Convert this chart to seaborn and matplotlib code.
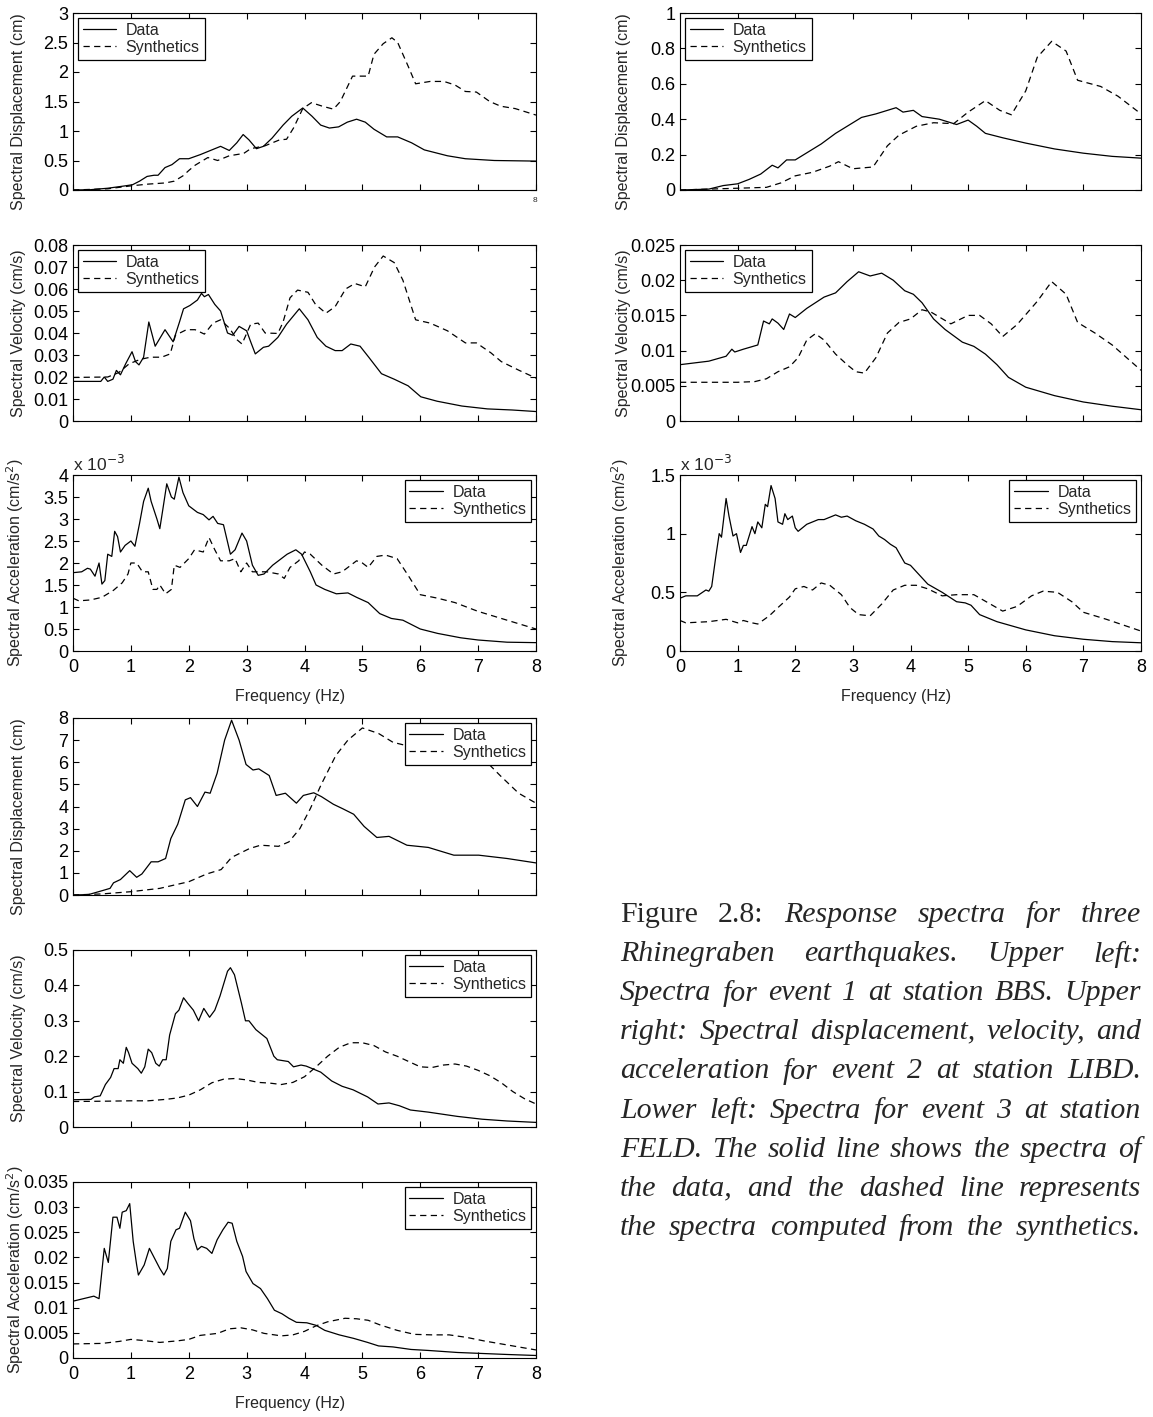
import matplotlib
matplotlib.use("Agg")
import matplotlib.pyplot as plt
import seaborn as sns
import pandas as pd
from matplotlib.ticker import FuncFormatter, MultipleLocator

# ---------------- DATA ----------------
# Event 1, station BBS (upper left)
p1_data_f = [0.0, 0.3, 0.6, 0.9, 1.03, 1.15, 1.28, 1.4, 1.47, 1.59, 1.71, 1.84, 2.0, 2.2, 2.4, 2.55, 2.7, 2.83, 2.94, 3.04, 3.17, 3.29, 3.44, 3.63, 3.78, 3.97, 4.13, 4.28, 4.43, 4.59, 4.74, 4.9, 5.05, 5.2, 5.42, 5.61, 5.85, 6.07, 6.47, 6.78, 7.28, 8.0]
p1_data_v = [0.0, 0.005, 0.03, 0.07, 0.09, 0.15, 0.23, 0.25, 0.25, 0.38, 0.43, 0.53, 0.53, 0.6, 0.68, 0.74, 0.67, 0.8, 0.94, 0.85, 0.7, 0.74, 0.88, 1.1, 1.25, 1.39, 1.25, 1.1, 1.05, 1.07, 1.15, 1.2, 1.15, 1.03, 0.9, 0.9, 0.8, 0.68, 0.58, 0.53, 0.5, 0.49]
p1_syn_f = [0.0, 0.6, 1.0, 1.3, 1.6, 1.75, 1.9, 2.0, 2.11, 2.33, 2.5, 2.7, 2.95, 3.07, 3.32, 3.57, 3.69, 3.81, 3.97, 4.12, 4.31, 4.5, 4.62, 4.83, 5.1, 5.2, 5.36, 5.51, 5.61, 5.79, 5.92, 6.17, 6.41, 6.6, 6.78, 6.97, 7.2, 7.39, 7.64, 8.0]
p1_syn_v = [0.0, 0.02, 0.07, 0.1, 0.12, 0.15, 0.24, 0.33, 0.42, 0.55, 0.5, 0.58, 0.62, 0.7, 0.75, 0.85, 0.86, 1.05, 1.38, 1.48, 1.42, 1.37, 1.5, 1.93, 1.93, 2.3, 2.48, 2.58, 2.5, 2.1, 1.8, 1.84, 1.84, 1.78, 1.67, 1.66, 1.5, 1.42, 1.38, 1.27]

p3_data_f = [0.0, 0.48, 0.54, 0.6, 0.69, 0.75, 0.82, 0.91, 1.02, 1.08, 1.14, 1.22, 1.31, 1.42, 1.59, 1.73, 1.84, 1.91, 2.02, 2.15, 2.22, 2.27, 2.34, 2.45, 2.55, 2.67, 2.76, 2.87, 3.0, 3.07, 3.15, 3.29, 3.38, 3.54, 3.69, 3.91, 4.06, 4.22, 4.37, 4.53, 4.65, 4.8, 4.96, 5.11, 5.33, 5.55, 5.79, 6.01, 6.29, 6.72, 7.16, 7.59, 8.0]
p3_data_v = [0.018, 0.018, 0.02, 0.018, 0.019, 0.023, 0.021, 0.026, 0.0315, 0.027, 0.0255, 0.029, 0.045, 0.034, 0.0415, 0.036, 0.045, 0.051, 0.0525, 0.055, 0.058, 0.0565, 0.0575, 0.053, 0.05, 0.04, 0.039, 0.043, 0.041, 0.036, 0.0305, 0.0335, 0.034, 0.038, 0.044, 0.051, 0.046, 0.038, 0.034, 0.032, 0.032, 0.035, 0.034, 0.029, 0.0215, 0.019, 0.016, 0.011, 0.009, 0.0068, 0.0055, 0.005, 0.0043]
p3_syn_f = [0.0, 0.6, 0.79, 0.97, 1.16, 1.34, 1.53, 1.68, 1.77, 1.96, 2.11, 2.27, 2.42, 2.55, 2.71, 2.83, 2.92, 3.07, 3.2, 3.32, 3.54, 3.63, 3.75, 3.88, 4.06, 4.19, 4.37, 4.53, 4.71, 4.87, 5.05, 5.21, 5.36, 5.55, 5.7, 5.92, 6.17, 6.47, 6.78, 6.97, 7.22, 7.4, 7.71, 8.0]
p3_syn_v = [0.0198, 0.02, 0.022, 0.026, 0.028, 0.029, 0.029, 0.0305, 0.039, 0.0415, 0.0415, 0.0395, 0.0445, 0.046, 0.042, 0.037, 0.035, 0.044, 0.0445, 0.04, 0.0398, 0.045, 0.056, 0.0595, 0.0585, 0.053, 0.049, 0.052, 0.06, 0.0625, 0.061, 0.07, 0.075, 0.072, 0.064, 0.046, 0.0445, 0.041, 0.0355, 0.0355, 0.031, 0.027, 0.023, 0.0195]

# acceleration in units of 1e-3 cm/s^2
p5_data_f = [0.0, 0.15, 0.25, 0.3, 0.38, 0.45, 0.5, 0.55, 0.6, 0.67, 0.72, 0.77, 0.82, 0.9, 1.0, 1.07, 1.15, 1.22, 1.3, 1.35, 1.45, 1.5, 1.55, 1.62, 1.7, 1.75, 1.83, 1.9, 2.0, 2.15, 2.25, 2.35, 2.42, 2.5, 2.6, 2.72, 2.8, 2.92, 3.0, 3.1, 3.2, 3.3, 3.45, 3.55, 3.7, 3.85, 3.95, 4.1, 4.2, 4.35, 4.55, 4.75, 4.9, 5.1, 5.3, 5.5, 5.7, 5.85, 6.0, 6.3, 6.7, 7.0, 7.5, 8.0]
p5_data_v = [1.78, 1.8, 1.88, 1.86, 1.7, 2.0, 1.52, 1.6, 2.2, 2.15, 2.72, 2.6, 2.25, 2.4, 2.5, 2.38, 2.9, 3.4, 3.7, 3.4, 3.0, 2.78, 3.2, 3.8, 3.5, 3.45, 3.95, 3.6, 3.3, 3.15, 3.1, 2.98, 3.06, 2.9, 2.87, 2.2, 2.3, 2.68, 2.5, 1.95, 1.72, 1.75, 1.95, 2.05, 2.2, 2.3, 2.2, 1.8, 1.5, 1.4, 1.3, 1.32, 1.22, 1.1, 0.85, 0.74, 0.7, 0.6, 0.5, 0.4, 0.3, 0.25, 0.2, 0.19]
p5_syn_f = [0.0, 0.1, 0.3, 0.5, 0.7, 0.85, 0.95, 1.0, 1.1, 1.2, 1.3, 1.38, 1.45, 1.5, 1.6, 1.7, 1.75, 1.85, 2.0, 2.1, 2.25, 2.35, 2.45, 2.55, 2.7, 2.8, 2.9, 3.0, 3.1, 3.35, 3.55, 3.65, 3.75, 3.9, 4.0, 4.1, 4.3, 4.5, 4.65, 4.9, 5.0, 5.1, 5.25, 5.4, 5.6, 5.8, 6.0, 6.3, 6.6, 7.0, 7.5, 8.0]
p5_syn_v = [1.2, 1.14, 1.16, 1.22, 1.38, 1.55, 1.75, 2.0, 2.0, 1.8, 1.8, 1.4, 1.4, 1.5, 1.3, 1.4, 1.95, 1.9, 2.1, 2.3, 2.25, 2.58, 2.3, 2.05, 2.05, 2.1, 1.8, 2.0, 1.8, 1.8, 1.75, 1.65, 1.9, 2.05, 2.25, 2.2, 1.95, 1.75, 1.8, 2.05, 2.0, 1.9, 2.15, 2.18, 2.1, 1.7, 1.28, 1.2, 1.1, 0.9, 0.7, 0.5]

# Event 2, station LIBD (upper right)
p2_data_f = [0.0, 0.5, 0.75, 1.0, 1.2, 1.4, 1.6, 1.7, 1.85, 2.0, 2.2, 2.45, 2.7, 2.95, 3.15, 3.4, 3.6, 3.75, 3.87, 4.05, 4.2, 4.5, 4.8, 5.0, 5.15, 5.3, 5.6, 6.0, 6.5, 7.0, 7.5, 8.0]
p2_data_v = [0.0, 0.005, 0.025, 0.035, 0.06, 0.09, 0.14, 0.125, 0.17, 0.17, 0.21, 0.26, 0.32, 0.37, 0.41, 0.43, 0.45, 0.465, 0.44, 0.45, 0.415, 0.4, 0.37, 0.395, 0.36, 0.32, 0.295, 0.265, 0.232, 0.208, 0.19, 0.18]
p2_syn_f = [0.0, 1.0, 1.5, 1.75, 2.0, 2.3, 2.6, 2.75, 3.0, 3.35, 3.6, 3.8, 4.1, 4.4, 4.75, 5.0, 5.3, 5.55, 5.75, 6.0, 6.2, 6.45, 6.7, 6.9, 7.3, 7.6, 8.0]
p2_syn_v = [0.0, 0.01, 0.015, 0.04, 0.08, 0.1, 0.135, 0.16, 0.12, 0.13, 0.25, 0.31, 0.36, 0.38, 0.375, 0.44, 0.505, 0.45, 0.425, 0.56, 0.75, 0.84, 0.785, 0.62, 0.585, 0.53, 0.43]

p4_data_f = [0.0, 0.5, 0.8, 0.9, 0.95, 1.1, 1.35, 1.45, 1.55, 1.6, 1.7, 1.8, 1.9, 2.0, 2.2, 2.5, 2.7, 2.9, 3.1, 3.3, 3.5, 3.7, 3.9, 4.05, 4.2, 4.4, 4.6, 4.9, 5.1, 5.3, 5.5, 5.7, 6.0, 6.5, 7.0, 7.5, 8.0]
p4_data_v = [0.008, 0.0085, 0.0092, 0.0102, 0.0098, 0.0102, 0.0108, 0.0142, 0.0138, 0.0145, 0.0139, 0.013, 0.0152, 0.0147, 0.016, 0.0176, 0.0182, 0.0198, 0.0212, 0.0206, 0.021, 0.02, 0.0185, 0.018, 0.0168, 0.0145, 0.013, 0.0112, 0.0106, 0.0095, 0.008, 0.0062, 0.0048, 0.0036, 0.0027, 0.0021, 0.0016]
p4_syn_f = [0.0, 1.0, 1.3, 1.5, 1.7, 1.9, 2.05, 2.2, 2.35, 2.5, 2.7, 2.9, 3.05, 3.2, 3.4, 3.6, 3.8, 4.0, 4.2, 4.35, 4.7, 5.0, 5.2, 5.4, 5.6, 5.85, 6.2, 6.45, 6.7, 6.9, 7.2, 7.5, 8.0]
p4_syn_v = [0.0055, 0.0055, 0.0056, 0.006, 0.007, 0.0077, 0.009, 0.0115, 0.0124, 0.0115, 0.0095, 0.008, 0.007, 0.0068, 0.009, 0.0125, 0.014, 0.0145, 0.0158, 0.0155, 0.0138, 0.015, 0.015, 0.0138, 0.012, 0.0137, 0.017, 0.0198, 0.018, 0.014, 0.0125, 0.0108, 0.0072]

p6_data_f = [0.0, 0.1, 0.3, 0.45, 0.5, 0.55, 0.62, 0.68, 0.72, 0.8, 0.85, 0.92, 0.98, 1.05, 1.1, 1.15, 1.25, 1.3, 1.35, 1.42, 1.48, 1.52, 1.58, 1.65, 1.7, 1.78, 1.82, 1.87, 1.95, 2.0, 2.05, 2.2, 2.4, 2.5, 2.7, 2.8, 2.9, 3.05, 3.2, 3.35, 3.45, 3.55, 3.65, 3.75, 3.9, 4.0, 4.15, 4.3, 4.55, 4.8, 4.95, 5.05, 5.2, 5.5, 6.0, 6.5, 7.0, 7.5, 8.0]
p6_data_v = [0.45, 0.47, 0.47, 0.52, 0.51, 0.55, 0.8, 1.0, 0.97, 1.3, 1.15, 0.98, 1.0, 0.84, 0.9, 0.9, 1.06, 1.0, 1.1, 1.05, 1.25, 1.23, 1.41, 1.3, 1.1, 1.08, 1.17, 1.12, 1.15, 1.05, 1.02, 1.08, 1.12, 1.12, 1.16, 1.14, 1.15, 1.11, 1.08, 1.04, 0.98, 0.95, 0.91, 0.88, 0.75, 0.73, 0.65, 0.57, 0.5, 0.42, 0.41, 0.39, 0.31, 0.25, 0.18, 0.13, 0.1, 0.08, 0.07]
p6_syn_f = [0.0, 0.1, 0.5, 0.8, 1.0, 1.1, 1.25, 1.35, 1.55, 1.7, 1.9, 2.0, 2.15, 2.3, 2.45, 2.6, 2.8, 2.95, 3.1, 3.3, 3.5, 3.7, 3.9, 4.1, 4.3, 4.55, 4.8, 5.1, 5.35, 5.6, 5.85, 6.1, 6.3, 6.55, 6.8, 7.0, 7.4, 8.0]
p6_syn_v = [0.26, 0.24, 0.25, 0.27, 0.24, 0.26, 0.24, 0.23, 0.3, 0.37, 0.46, 0.53, 0.55, 0.52, 0.58, 0.56, 0.48, 0.37, 0.31, 0.3, 0.4, 0.52, 0.56, 0.56, 0.53, 0.47, 0.48, 0.48, 0.41, 0.34, 0.38, 0.47, 0.51, 0.5, 0.42, 0.33, 0.27, 0.17]

# Event 3, station FELD (lower left)
p7_data_f = [0.0, 0.27, 0.51, 0.64, 0.7, 0.82, 0.98, 1.1, 1.19, 1.35, 1.47, 1.6, 1.69, 1.81, 1.94, 2.03, 2.15, 2.28, 2.37, 2.49, 2.62, 2.74, 2.87, 2.99, 3.11, 3.21, 3.33, 3.39, 3.51, 3.67, 3.86, 3.98, 4.16, 4.29, 4.5, 4.66, 4.85, 5.03, 5.25, 5.46, 5.77, 6.14, 6.58, 7.01, 7.5, 8.0]
p7_data_v = [0.0, 0.02, 0.2, 0.3, 0.55, 0.7, 1.1, 0.8, 0.95, 1.5, 1.5, 1.65, 2.55, 3.2, 4.3, 4.4, 4.0, 4.65, 4.6, 5.5, 7.0, 7.9, 7.0, 5.9, 5.65, 5.7, 5.5, 5.4, 4.5, 4.6, 4.15, 4.5, 4.62, 4.45, 4.1, 3.9, 3.65, 3.1, 2.6, 2.65, 2.25, 2.15, 1.8, 1.8, 1.65, 1.45]
p7_syn_f = [0.0, 0.51, 1.0, 1.5, 2.0, 2.31, 2.56, 2.74, 3.05, 3.24, 3.55, 3.73, 3.92, 4.1, 4.29, 4.54, 4.75, 5.0, 5.28, 5.53, 6.0, 6.5, 7.0, 7.13, 7.38, 7.7, 8.0]
p7_syn_v = [0.0, 0.05, 0.15, 0.3, 0.6, 0.95, 1.15, 1.7, 2.1, 2.25, 2.2, 2.4, 3.0, 3.9, 5.0, 6.3, 7.0, 7.55, 7.3, 6.9, 6.6, 6.3, 6.1, 6.06, 5.4, 4.6, 4.15]

p8_data_f = [0.0, 0.31, 0.37, 0.47, 0.56, 0.65, 0.71, 0.78, 0.81, 0.87, 0.92, 0.96, 1.02, 1.12, 1.18, 1.24, 1.3, 1.36, 1.43, 1.49, 1.55, 1.61, 1.67, 1.77, 1.83, 1.91, 1.98, 2.08, 2.17, 2.26, 2.36, 2.45, 2.54, 2.67, 2.72, 2.79, 2.91, 2.98, 3.04, 3.16, 3.35, 3.47, 3.53, 3.72, 3.81, 3.94, 4.03, 4.28, 4.47, 4.65, 4.84, 5.09, 5.27, 5.46, 5.64, 5.83, 6.14, 6.64, 7.07, 7.5, 8.0]
p8_data_v = [0.077, 0.078, 0.085, 0.088, 0.12, 0.14, 0.165, 0.165, 0.19, 0.18, 0.225, 0.21, 0.18, 0.165, 0.152, 0.17, 0.22, 0.21, 0.18, 0.172, 0.19, 0.19, 0.26, 0.32, 0.33, 0.365, 0.35, 0.33, 0.3, 0.335, 0.31, 0.33, 0.37, 0.44, 0.45, 0.43, 0.35, 0.3, 0.3, 0.275, 0.25, 0.2, 0.19, 0.185, 0.17, 0.175, 0.172, 0.155, 0.13, 0.115, 0.105, 0.085, 0.065, 0.068, 0.06, 0.048, 0.042, 0.03, 0.022, 0.017, 0.013]
p8_syn_f = [0.0, 0.6, 1.0, 1.3, 1.6, 1.8, 2.0, 2.2, 2.4, 2.6, 2.8, 3.0, 3.2, 3.4, 3.6, 3.8, 4.0, 4.2, 4.4, 4.6, 4.8, 5.0, 5.2, 5.4, 5.6, 5.8, 6.0, 6.2, 6.4, 6.6, 6.8, 7.0, 7.2, 7.4, 7.6, 7.8, 8.0]
p8_syn_v = [0.072, 0.073, 0.074, 0.074, 0.078, 0.082, 0.09, 0.105, 0.125, 0.135, 0.137, 0.133, 0.126, 0.124, 0.12, 0.126, 0.142, 0.17, 0.2, 0.225, 0.238, 0.238, 0.23, 0.212, 0.2, 0.185, 0.17, 0.168, 0.175, 0.178, 0.172, 0.16, 0.145, 0.125, 0.1, 0.08, 0.065]

p9_data_f = [0.0, 0.36, 0.45, 0.54, 0.61, 0.69, 0.76, 0.81, 0.85, 0.92, 0.98, 1.04, 1.1, 1.13, 1.23, 1.32, 1.41, 1.5, 1.57, 1.63, 1.69, 1.78, 1.84, 1.94, 2.03, 2.09, 2.15, 2.22, 2.31, 2.4, 2.49, 2.59, 2.68, 2.75, 2.83, 2.93, 2.99, 3.11, 3.24, 3.36, 3.48, 3.61, 3.73, 3.86, 4.04, 4.2, 4.35, 4.6, 4.85, 5.09, 5.28, 5.53, 5.84, 6.14, 6.64, 7.07, 7.5, 8.0]
p9_data_v = [0.0113, 0.0123, 0.0118, 0.0218, 0.019, 0.028, 0.028, 0.0258, 0.029, 0.0293, 0.0307, 0.0232, 0.0185, 0.0165, 0.0185, 0.0218, 0.0198, 0.0178, 0.0165, 0.0178, 0.0232, 0.0255, 0.0258, 0.029, 0.0273, 0.0237, 0.0215, 0.0222, 0.0218, 0.0208, 0.0235, 0.0255, 0.027, 0.0268, 0.0232, 0.0202, 0.0172, 0.0148, 0.0138, 0.0118, 0.0095, 0.0088, 0.0079, 0.0071, 0.007, 0.0065, 0.0055, 0.0046, 0.0039, 0.0031, 0.0024, 0.0022, 0.0017, 0.0015, 0.0011, 0.0009, 0.0007, 0.0005]
p9_syn_f = [0.0, 0.5, 0.8, 1.0, 1.2, 1.5, 1.8, 2.0, 2.2, 2.5, 2.7, 2.9, 3.1, 3.3, 3.6, 3.8, 4.0, 4.2, 4.4, 4.7, 4.9, 5.1, 5.3, 5.6, 5.9, 6.2, 6.5, 6.8, 7.1, 7.5, 8.0]
p9_syn_v = [0.0028, 0.0029, 0.0033, 0.0037, 0.0035, 0.0031, 0.0034, 0.0037, 0.0045, 0.0049, 0.0058, 0.006, 0.0056, 0.0049, 0.0044, 0.0046, 0.0053, 0.0064, 0.0072, 0.0079, 0.0078, 0.0075, 0.0066, 0.0055, 0.0047, 0.0046, 0.0046, 0.0041, 0.0034, 0.0026, 0.0016]

series_labels = ["Data", "Synthetics"]
x_ticks = [0, 1, 2, 3, 4, 5, 6, 7, 8]
x_label = "Frequency (Hz)"
y_labels = ["Spectral Displacement (cm)", "Spectral Velocity (cm/s)", "Spectral Acceleration (cm/s$^2$)"]

caption_lines = [
    [("Figure", "normal"), ("2.8:", "normal"), ("Response", "italic"), ("spectra", "italic"), ("for", "italic"), ("three", "italic")],
    [(w, "italic") for w in "Rhinegraben earthquakes. Upper left:".split()],
    [(w, "italic") for w in "Spectra for event 1 at station BBS. Upper".split()],
    [(w, "italic") for w in "right: Spectral displacement, velocity, and".split()],
    [(w, "italic") for w in "acceleration for event 2 at station LIBD.".split()],
    [(w, "italic") for w in "Lower left: Spectra for event 3 at station".split()],
    [(w, "italic") for w in "FELD. The solid line shows the spectra of".split()],
    [(w, "italic") for w in "the data, and the dashed line represents".split()],
    [(w, "italic") for w in "the spectra computed from the synthetics.".split()],
]

# ---------------- STYLE ----------------
sns.set_style("ticks")
plt.rcParams["font.family"] = ["Liberation Sans", "DejaVu Sans"]
plt.rcParams["axes.edgecolor"] = "black"
plt.rcParams["axes.linewidth"] = 0.8

W, H = 1153, 1417
fig = plt.figure(figsize=(W / 100, H / 100), dpi=100)
fig.patch.set_facecolor("white")


def add_ax(x0, y0, x1, y1):
    return fig.add_axes([x0 / W, 1 - y1 / H, (x1 - x0) / W, (y1 - y0) / H])


LX = (73, 536)
RX = (680, 1141)
ROWS = [(13, 190), (245, 421), (475, 651), (718, 895), (950, 1127), (1182, 1358)]

panels = [
    dict(col=LX, row=ROWS[0], d=(p1_data_f, p1_data_v), s=(p1_syn_f, p1_syn_v), ymax=3, ystep=0.5, yl=0, loc="upper left", xl=False, off=False),
    dict(col=LX, row=ROWS[1], d=(p3_data_f, p3_data_v), s=(p3_syn_f, p3_syn_v), ymax=0.08, ystep=0.01, yl=1, loc="upper left", xl=False, off=False),
    dict(col=LX, row=ROWS[2], d=(p5_data_f, p5_data_v), s=(p5_syn_f, p5_syn_v), ymax=4, ystep=0.5, yl=2, loc="upper right", xl=True, off=True),
    dict(col=RX, row=ROWS[0], d=(p2_data_f, p2_data_v), s=(p2_syn_f, p2_syn_v), ymax=1, ystep=0.2, yl=0, loc="upper left", xl=False, off=False),
    dict(col=RX, row=ROWS[1], d=(p4_data_f, p4_data_v), s=(p4_syn_f, p4_syn_v), ymax=0.025, ystep=0.005, yl=1, loc="upper left", xl=False, off=False),
    dict(col=RX, row=ROWS[2], d=(p6_data_f, p6_data_v), s=(p6_syn_f, p6_syn_v), ymax=1.5, ystep=0.5, yl=2, loc="upper right", xl=True, off=True),
    dict(col=LX, row=ROWS[3], d=(p7_data_f, p7_data_v), s=(p7_syn_f, p7_syn_v), ymax=8, ystep=1, yl=0, loc="upper right", xl=False, off=False),
    dict(col=LX, row=ROWS[4], d=(p8_data_f, p8_data_v), s=(p8_syn_f, p8_syn_v), ymax=0.5, ystep=0.1, yl=1, loc="upper right", xl=False, off=False),
    dict(col=LX, row=ROWS[5], d=(p9_data_f, p9_data_v), s=(p9_syn_f, p9_syn_v), ymax=0.035, ystep=0.005, yl=2, loc="upper right", xl=True, off=False),
]

fmt = FuncFormatter(lambda v, p: "{:g}".format(round(v, 6)))

for P in panels:
    x0, x1 = P["col"]
    y0, y1 = P["row"]
    hpx = y1 - y0
    ax = add_ax(x0, y0, x1, y1)
    df_d = pd.DataFrame({"freq": P["d"][0], "val": P["d"][1]})
    df_s = pd.DataFrame({"freq": P["s"][0], "val": P["s"][1]})
    sns.lineplot(data=df_d, x="freq", y="val", ax=ax, color="black", lw=0.9,
                 estimator=None, sort=False, label=series_labels[0])
    sns.lineplot(data=df_s, x="freq", y="val", ax=ax, color="black", lw=0.9,
                 linestyle=(0, (5, 3.5)), estimator=None, sort=False, label=series_labels[1])
    ax.set_xlim(0, 8)
    ax.set_ylim(0, P["ymax"])
    ax.set_xticks(x_ticks)
    ax.yaxis.set_major_locator(MultipleLocator(P["ystep"]))
    ax.yaxis.set_major_formatter(fmt)
    ax.tick_params(direction="in", top=True, right=True, length=4, width=0.8,
                   labelsize=13, colors="black")
    ax.tick_params(axis="y", pad=3.5)
    ax.tick_params(axis="x", pad=5.5)
    for sp in ax.spines.values():
        sp.set_visible(True)
        sp.set_color("black")
        sp.set_linewidth(0.8)
    if P["xl"]:
        ax.set_xlabel(x_label, fontsize=11.5)
        ax.xaxis.set_major_formatter(FuncFormatter(lambda v, p: "{:g}".format(v)))
        ax.xaxis.set_label_coords(0.469, -38.0 / hpx)
    else:
        ax.set_xlabel("")
        ax.set_xticklabels([])
    ax.set_ylabel(y_labels[P["yl"]], fontsize=11.5)
    xpix = 26 if x0 == 73 else 631
    yfrac = 0.44 if P["yl"] == 0 else 0.5
    ax.yaxis.set_label_coords((xpix - x0) / (x1 - x0), yfrac)
    if P["off"]:
        ax.text(0.0, 1.005, "x 10$^{-3}$", transform=ax.transAxes, ha="left", va="bottom", fontsize=12.5)
    h, l = ax.get_legend_handles_labels()
    leg = ax.legend(h, l, loc=P["loc"], frameon=True, fancybox=False, framealpha=1,
                    edgecolor="black", fontsize=11.5, handlelength=2.1, handletextpad=0.6,
                    borderpad=0.3, labelspacing=0.15, borderaxespad=0.3)
    leg.get_frame().set_linewidth(0.9)

# tiny stray tick label in the first panel
fig.text(535 / W, 1 - 201 / H, "8", fontsize=6, ha="center", va="center")

# ---------------- CAPTION (justified) ----------------
fig.canvas.draw()
renderer = fig.canvas.get_renderer()
cap_x0, cap_x1 = 620, 1141
cap_y0, cap_dy = 915, 39.1
for i, line in enumerate(caption_lines):
    ypix = cap_y0 + i * cap_dy
    txts = []
    for word, style in line:
        t = fig.text(0, 1 - ypix / H, word, fontsize=21.5, family="Liberation Serif",
                     style=style, ha="left", va="center")
        txts.append(t)
    widths = [t.get_window_extent(renderer=renderer).width for t in txts]
    gap = (cap_x1 - cap_x0 - sum(widths)) / max(len(txts) - 1, 1)
    xcur = cap_x0
    for t, w in zip(txts, widths):
        t.set_x(xcur / W)
        xcur += w + gap

fig.savefig("out.png", dpi=100, facecolor="white")
